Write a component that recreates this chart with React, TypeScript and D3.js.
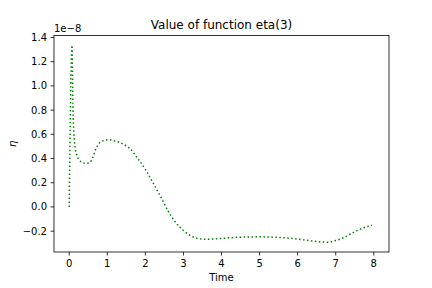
import React, { useEffect, useRef } from 'react';
import * as d3 from 'd3';

// time samples and eta(3) values (in units of 1e-8)
const times = [0, 0.074, 0.1, 0.14, 0.2, 0.3, 0.45, 0.55, 0.62, 0.7, 0.8, 0.9, 1.05, 1.2, 1.4, 1.6, 1.8, 2.0, 2.2, 2.4, 2.6, 2.8, 3.0, 3.2, 3.4, 3.6, 3.8, 4.0, 4.5, 5.0, 5.5, 6.0, 6.3, 6.6, 6.8, 7.0, 7.2, 7.4, 7.6, 7.8, 7.95];
const etaValues = [0, 1.335, 0.8, 0.53, 0.43, 0.375, 0.36, 0.37, 0.41, 0.48, 0.53, 0.548, 0.555, 0.545, 0.522, 0.48, 0.4, 0.31, 0.2, 0.085, -0.035, -0.13, -0.195, -0.24, -0.262, -0.268, -0.265, -0.26, -0.25, -0.247, -0.252, -0.265, -0.278, -0.289, -0.291, -0.278, -0.255, -0.222, -0.19, -0.165, -0.152];
const xTicks = [0, 1, 2, 3, 4, 5, 6, 7, 8];
const yTicks = [-0.2, 0.0, 0.2, 0.4, 0.6, 0.8, 1.0, 1.2, 1.4];

const W = 432;
const H = 288;
const FONT = '"DejaVu Sans", sans-serif';

const App: React.FC = () => {
  const svgRef = useRef<SVGSVGElement>(null);

  useEffect(() => {
    if (!svgRef.current) return;
    const svg = d3.select(svgRef.current);
    svg.selectAll('*').remove();

    const left = 54, right = 389, top = 35.5, bottom = 252;
    const x = d3.scaleLinear().domain([-0.4, 8.4]).range([left, right]);
    const yMin = d3.min(etaValues)!;
    const yMax = d3.max(etaValues)!;
    const pad = (yMax - yMin) * 0.05;
    const y = d3.scaleLinear().domain([yMin - pad, yMax + pad]).range([bottom, top]);

    svg.append('rect').attr('width', W).attr('height', H).attr('fill', 'white');

    const pts: [number, number][] = times.map((t, i) => [t, etaValues[i]]);
    const line = d3.line<[number, number]>()
      .x(d => x(d[0]))
      .y(d => y(d[1]))
      .curve(d3.curveMonotoneX);

    svg.append('path')
      .attr('d', line(pts))
      .attr('fill', 'none')
      .attr('stroke', '#008000')
      .attr('stroke-width', 1.5)
      .attr('stroke-dasharray', '1.5,2.475');

    // frame
    svg.append('rect')
      .attr('x', left).attr('y', top)
      .attr('width', right - left).attr('height', bottom - top)
      .attr('fill', 'none').attr('stroke', 'black').attr('stroke-width', 0.8);

    const minus = (s: string) => s.replace('-', '\u2212');

    const xg = svg.append('g');
    xTicks.forEach(t => {
      xg.append('line').attr('x1', x(t)).attr('x2', x(t)).attr('y1', bottom).attr('y2', bottom + 3.5)
        .attr('stroke', 'black').attr('stroke-width', 0.8);
      xg.append('text').attr('x', x(t)).attr('y', bottom + 7).attr('dy', '0.76em')
        .attr('text-anchor', 'middle').attr('font-family', FONT).attr('font-size', 10)
        .text(String(t));
    });

    const yg = svg.append('g');
    yTicks.forEach(v => {
      yg.append('line').attr('x1', left - 3.5).attr('x2', left).attr('y1', y(v)).attr('y2', y(v))
        .attr('stroke', 'black').attr('stroke-width', 0.8);
      yg.append('text').attr('x', left - 7).attr('y', y(v)).attr('dy', '0.35em')
        .attr('text-anchor', 'end').attr('font-family', FONT).attr('font-size', 10)
        .text(minus(d3.format('.1f')(v)));
    });

    // offset text
    svg.append('text').attr('x', left).attr('y', top - 3.5)
      .attr('font-family', FONT).attr('font-size', 10).text('1e\u22128');

    svg.append('text').attr('x', (left + right) / 2).attr('y', 281)
      .attr('text-anchor', 'middle').attr('font-family', FONT).attr('font-size', 10).text('Time');

    svg.append('text').attr('transform', `translate(16,${(top + bottom) / 2}) rotate(-90)`)
      .attr('text-anchor', 'middle').attr('font-family', FONT).attr('font-size', 10)
      .attr('font-style', 'italic').text('η');

    svg.append('text').attr('x', (left + right) / 2).attr('y', top - 7)
      .attr('text-anchor', 'middle').attr('font-family', FONT).attr('font-size', 12)
      .text('Value of function eta(3)');
  }, []);

  return (
    <svg ref={svgRef} width={W} height={H} style={{ position: 'absolute', left: 0, top: 0 }}></svg>
  );
};

export default App;
